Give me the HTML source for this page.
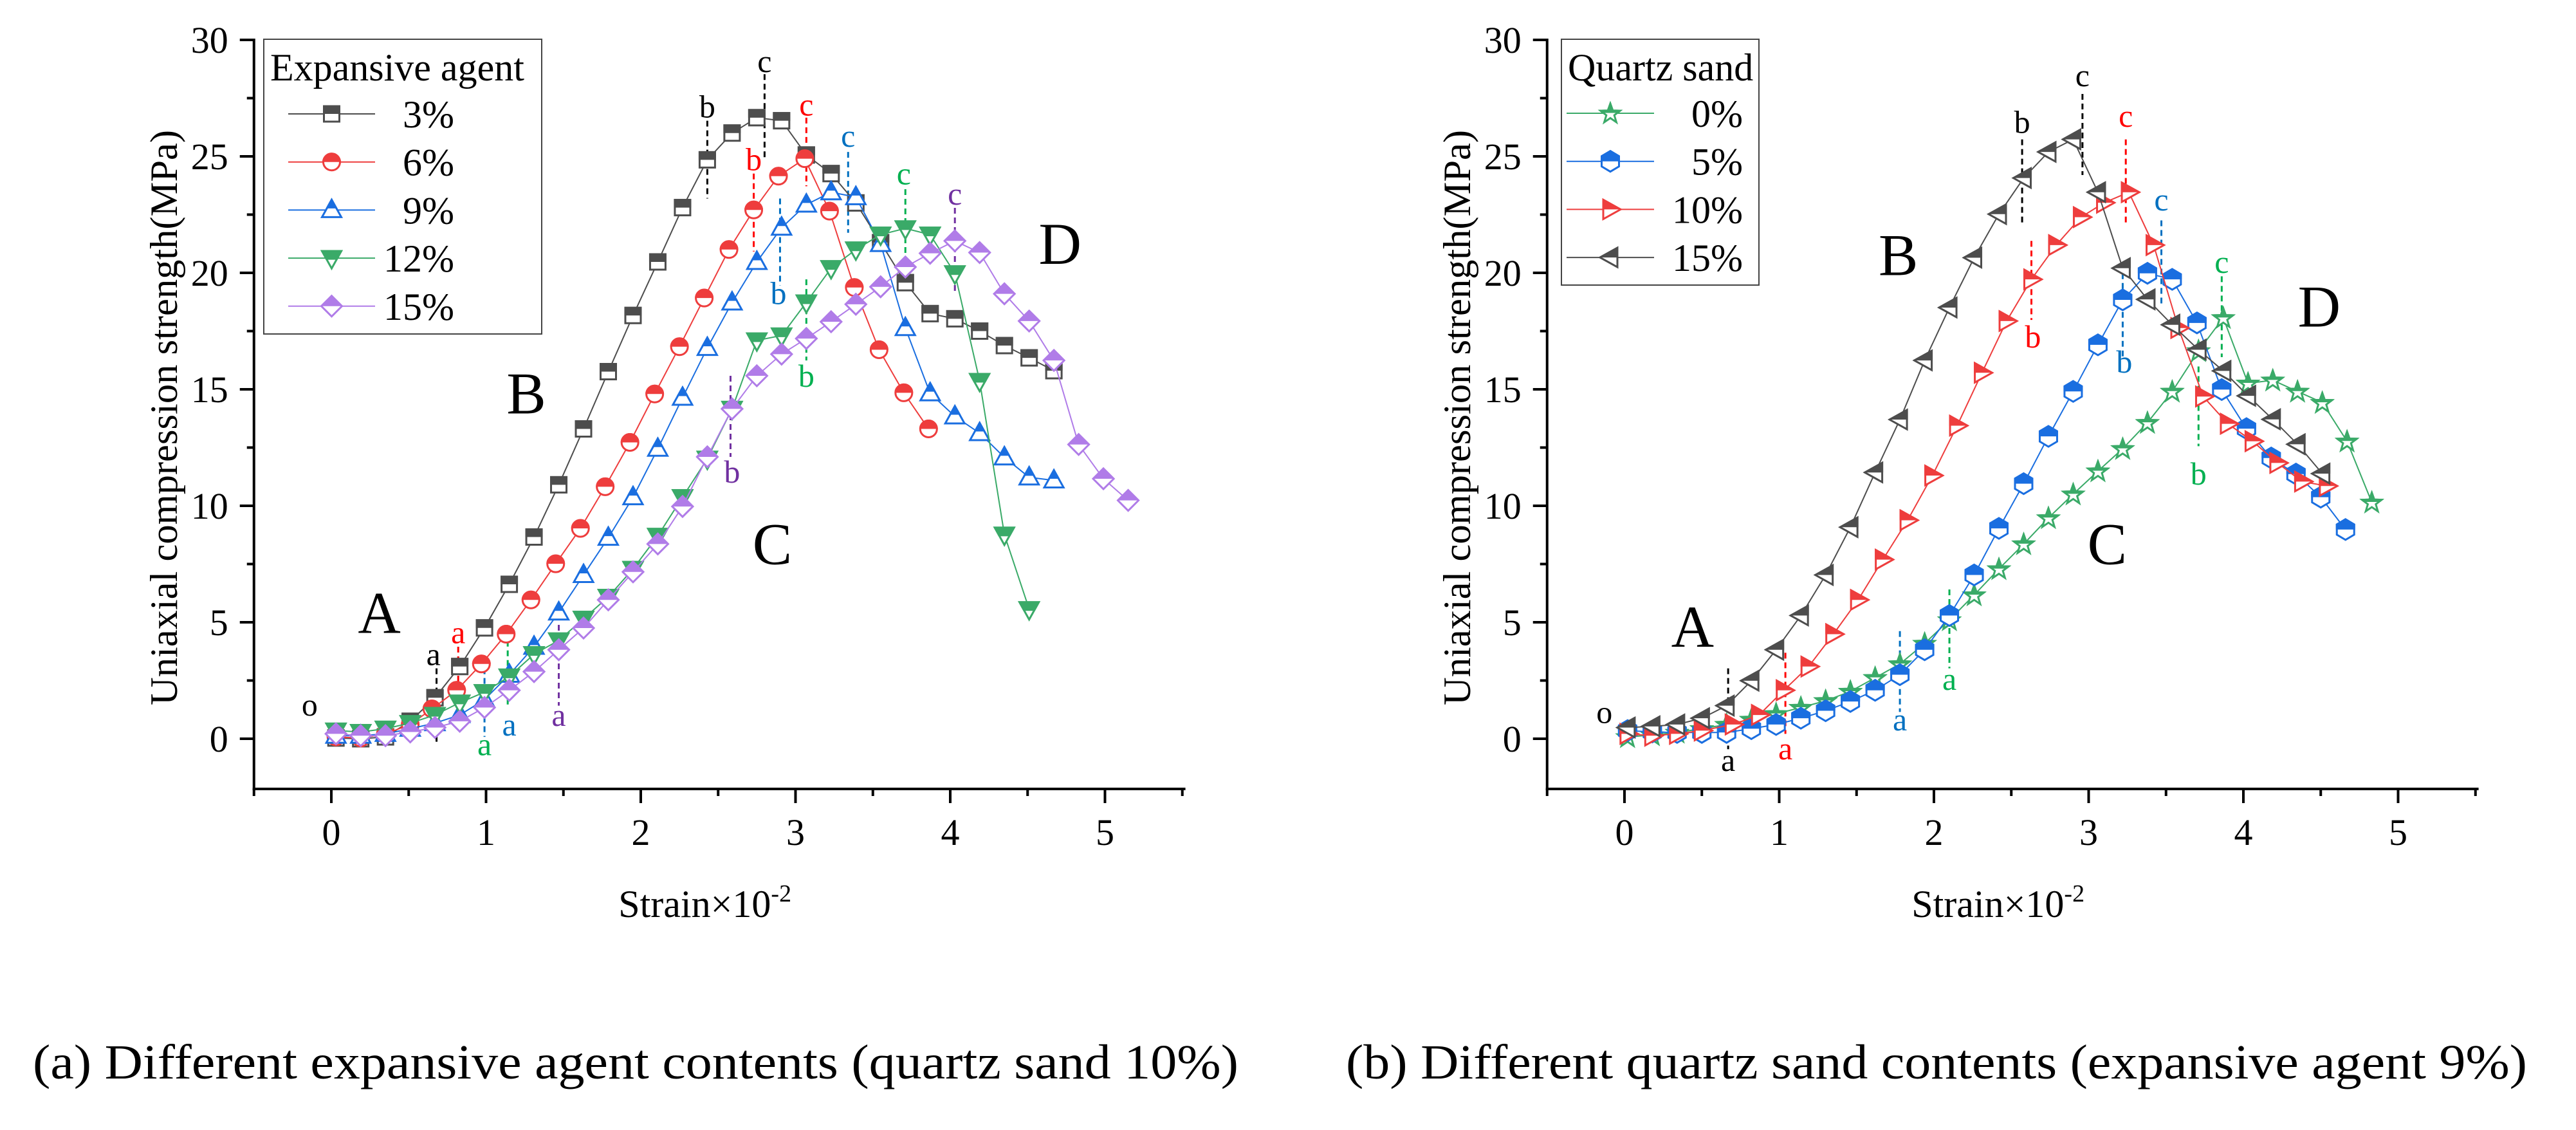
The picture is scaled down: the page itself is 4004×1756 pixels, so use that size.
<!DOCTYPE html>
<html><head><meta charset="utf-8"><style>
html,body{margin:0;padding:0;background:#fff;}
svg{display:block;font-family:"Liberation Serif",serif;}
</style></head><body>
<svg id="fig" width="4004" height="1756" viewBox="0 0 4004 1756" xmlns="http://www.w3.org/2000/svg">
<defs><clipPath id="top" clipPathUnits="objectBoundingBox"><rect x="-0.1" y="-0.1" width="1.2" height="0.6"/></clipPath></defs>
<g id="chartA"></g>
<g id="chartB"></g>
<text x="51" y="1676" font-size="76" textLength="1874" lengthAdjust="spacingAndGlyphs">(a) Different expansive agent contents (quartz sand 10%)</text>
<text x="2092" y="1676" font-size="76" textLength="1836" lengthAdjust="spacingAndGlyphs">(b) Different quartz sand contents (expansive agent 9%)</text>
</svg>
<script>
// ---------- Chart A data ----------
const xA30 = [0.03,0.19,0.35,0.51,0.67,0.83,0.99,1.15,1.31,1.47,1.63,1.79,1.95,2.11,2.27,2.43,2.59,2.75,2.91,3.07,3.23,3.39,3.55,3.71,3.87,4.03,4.19,4.35,4.51,4.67];
const yA3 = [0.03,0,0.08,0.75,1.76,3.1,4.76,6.63,8.66,10.9,13.3,15.76,18.17,20.47,22.8,24.85,26.0,26.66,26.53,25.06,24.26,23.0,21.3,19.58,18.25,18.03,17.5,16.88,16.35,15.8];
const xA6 = [0.03,0.19,0.35,0.51,0.65,0.81,0.97,1.13,1.29,1.45,1.61,1.77,1.93,2.09,2.25,2.41,2.57,2.73,2.89,3.06,3.22,3.38,3.54,3.70,3.86];
const yA6 = [0.08,0.03,0.21,0.61,1.28,2.08,3.21,4.49,5.96,7.51,9.03,10.82,12.72,14.8,16.83,18.92,21.0,22.7,24.15,24.9,22.65,19.37,16.7,14.85,13.3];
const yA9 = [0.13,0.13,0.21,0.43,0.67,1.02,1.68,2.75,3.95,5.42,7.03,8.63,10.37,12.45,14.64,16.78,18.73,20.47,21.94,22.93,23.46,23.25,21.24,17.63,14.83,13.84,13.12,12.08,11.22,11.09];
const xA12 = [0.03,0.19,0.35,0.51,0.67,0.83,0.99,1.15,1.31,1.47,1.63,1.79,1.95,2.11,2.27,2.43,2.59,2.75,2.91,3.07,3.23,3.39,3.55,3.71,3.87,4.03,4.19,4.35,4.51];
const yA12 = [0.35,0.29,0.43,0.67,1.02,1.55,2.0,2.67,3.63,4.22,5.15,6.09,7.29,8.71,10.37,12.02,14.16,17.1,17.31,18.73,20.2,21.0,21.64,21.91,21.64,19.98,15.36,8.76,5.56];
const xA15 = [0.03,0.19,0.35,0.51,0.67,0.83,0.99,1.15,1.31,1.47,1.63,1.79,1.95,2.11,2.27,2.43,2.59,2.75,2.91,3.07,3.23,3.39,3.55,3.71,3.87,4.03,4.19,4.35,4.51,4.67,4.83,4.99,5.15];
const yA15 = [0.21,0.13,0.13,0.29,0.48,0.75,1.34,2.08,2.88,3.82,4.75,5.96,7.16,8.36,9.97,12.1,14.16,15.58,16.51,17.18,17.9,18.65,19.4,20.25,20.84,21.37,20.87,19.1,17.93,16.24,12.63,11.16,10.23];
// annotations A: letter, x, y, lineTop, lineBottom, color
const annA_txt = ['a','a','a','a','a','b','c','b','c','b','c','b','c','b','c'];
const annA_tx = [0.66,0.82,1.15,0.99,1.47,2.43,2.80,2.73,3.07,2.89,3.34,3.07,3.70,2.59,4.03];
const annA_ty = [3.55,4.49,0.53,-0.32,0.94,27.06,29.0,24.79,27.14,19.05,25.8,15.5,24.18,11.38,23.32];
const annA_lx = [0.68,0.82,0.99,1.14,1.47,2.43,2.80,2.73,3.07,2.90,3.34,3.07,3.71,2.58,4.03];
const annA_l1 = [3.02,3.95,3.02,4.62,4.89,26.53,28.53,24.26,26.66,23.19,25.19,19.72,23.59,15.58,22.79];
const annA_l2 = [-0.19,0.75,0.08,1.42,1.42,23.19,24.93,20.92,23.72,19.45,21.72,16.24,20.25,12.1,19.18];
const annA_col = ['#000','#f00','#0070c0','#00b050','#7030a0','#000','#000','#f00','#f00','#0070c0','#0070c0','#00b050','#00b050','#7030a0','#7030a0'];
// ---------- Chart B data ----------
const xB0 = [0.02,0.18,0.34,0.50,0.66,0.82,0.98,1.14,1.30,1.46,1.62,1.78,1.94,2.10,2.26,2.42,2.58,2.74,2.90,3.06,3.22,3.38,3.54,3.71,3.87,4.03,4.19,4.35,4.51,4.67,4.83];
const yB0 = [0.08,0.16,0.27,0.43,0.61,0.83,1.07,1.34,1.63,2.03,2.62,3.21,4.09,5.1,6.17,7.29,8.36,9.48,10.5,11.49,12.45,13.57,14.91,16.65,18.07,15.26,15.39,14.91,14.43,12.77,10.15];
const yB5 = [0.35,0.29,0.27,0.27,0.27,0.43,0.61,0.88,1.2,1.6,2.08,2.75,3.82,5.29,7.03,9.03,10.95,12.98,14.91,16.91,18.84,19.98,19.72,17.85,14.99,13.31,12.05,11.36,10.37,8.98];
const xB10 = [0.02,0.18,0.34,0.50,0.70,0.87,1.03,1.19,1.35,1.51,1.67,1.83,1.99,2.15,2.31,2.47,2.63,2.79,2.95,3.10,3.26,3.42,3.58,3.74,3.90,4.06,4.22,4.38,4.54];
const yB10 = [0.21,0.13,0.21,0.35,0.61,1.02,2.08,3.1,4.49,5.96,7.69,9.38,11.3,13.44,15.71,17.93,19.72,21.19,22.39,23.01,23.46,21.19,17.63,14.69,13.52,12.77,11.84,11.04,10.85];
const yB15 = [0.48,0.53,0.61,0.88,1.42,2.49,3.82,5.29,7.03,9.08,11.43,13.7,16.24,18.51,20.65,22.52,24.07,25.19,25.73,23.46,20.2,18.86,17.77,16.7,15.79,14.72,13.71,12.64,11.38];
const annB_txt = ['a','a','a','a','b','b','b','b','c','c','c','c'];
const annB_tx = [0.67,1.04,1.78,2.10,2.57,2.64,3.23,3.71,2.96,3.24,3.47,3.86];
const annB_ty = [-0.99,-0.5,0.75,2.48,26.4,17.18,16.11,11.3,28.4,26.66,23.06,20.38];
const annB_lx = [0.67,1.04,1.78,2.10,2.57,2.63,3.22,3.71,2.96,3.24,3.47,3.86];
const annB_l1 = [3.02,3.69,4.62,6.41,25.73,21.37,19.98,15.98,27.68,25.73,22.25,19.85];
const annB_l2 = [-0.45,0.21,1.15,3.02,22.12,17.98,16.38,12.56,24.2,22.12,18.65,16.38];
const annB_col = ['#000','#f00','#0070c0','#00b050','#000','#f00','#0070c0','#00b050','#000','#f00','#0070c0','#00b050'];
const xTicks = [0,1,2,3,4,5];
const yTicks = [0,5,10,15,20,25,30];

const NS='http://www.w3.org/2000/svg';
function mk(parent,tag,attrs,txt){const e=document.createElementNS(NS,tag);for(const k in attrs)e.setAttribute(k,attrs[k]);if(txt!==undefined)e.textContent=txt;parent.appendChild(e);return e;}
function star(){let d='';for(let i=0;i<10;i++){const r=i%2?6.5:16;const a=-Math.PI/2+i*Math.PI/5;d+=(i?'L':'M')+(r*Math.cos(a)).toFixed(2)+','+(r*Math.sin(a)+1).toFixed(2);}return d+'Z';}
const SHAPES={
 square:'M-12,-12H12V12H-12Z',
 circle:'M-13,0A13,13 0 1,0 13,0A13,13 0 1,0 -13,0Z',
 up:'M0,-16L15,11L-15,11Z',
 down:'M0,16L15,-11L-15,-11Z',
 diamond:'M0,-16L16,0L0,16L-16,0Z',
 right:'M16,0L-11,-15L-11,15Z',
 left:'M-16,0L11,-15L11,15Z',
 hex:'M0,-16L13.5,-8V8L0,16L-13.5,8V-8Z',
 star:star()
};

function makeChart(g,x0){
  const X=v=>x0+v*240.5, Y=v=>1148-v*36.2;
  return {X,Y,g};
}
function drawAxes(c,name){
  const {X,Y,g}=c;
  const ax=mk(g,'g',{});
  
  
  const left=X(-0.5), right=X(5.52), bot=1226, top=Y(30);
  mk(ax,'line',{x1:left,y1:top-2,x2:left,y2:bot+2,stroke:'#000','stroke-width':4});
  mk(ax,'line',{x1:left-2,y1:bot,x2:right,y2:bot,stroke:'#000','stroke-width':4});
  for(let v=-0.5;v<=5.51;v+=0.5){const maj=Math.abs(v-Math.round(v))<0.01;mk(ax,'line',{x1:X(v),y1:bot,x2:X(v),y2:bot+(maj?22:11),stroke:'#000','stroke-width':4});}
  for(let v=-2.5;v<=30.01;v+=2.5){if(v<-2.2)continue;const maj=Math.abs(v/5-Math.round(v/5))<0.01;mk(ax,'line',{x1:left,y1:Y(v),x2:left-(maj?22:11),y2:Y(v),stroke:'#000','stroke-width':4});}
  xTicks.forEach(t=>{const e=mk(ax,'text',{x:X(t),y:1313,'font-size':58,'text-anchor':'middle'},String(t));
    
    });
  yTicks.forEach(t=>{const e=mk(ax,'text',{x:354,y:Y(t)+20,'font-size':58,'text-anchor':'end',transform:''},String(t));
    e.setAttribute('x',left-40);
    
    });
  const yl=mk(ax,'text',{x:0,y:0,'font-size':60,'text-anchor':'middle',textLength:894,lengthAdjust:'spacingAndGlyphs',transform:`translate(${left-120},649) rotate(-90)`},'Uniaxial compression strength(MPa)');
  
  
  const xl=mk(ax,'text',{x:X(2.5)-155,y:1425,'font-size':60},'Strain×10');
  mk(xl,'tspan',{'font-size':38,dy:-24},'-2');
  
  
}
function marker(g,shape,cx,cy,color){
  mk(g,'path',{d:SHAPES[shape],transform:`translate(${cx},${cy})`,fill:'#fff',stroke:color,'stroke-width':3});
  mk(g,'path',{d:SHAPES[shape],transform:`translate(${cx},${cy})`,fill:color,stroke:color,'stroke-width':3,'clip-path':'url(#top)'});
}
function drawSeries(c,xs,ys,shape,color,name){
  const {X,Y,g}=c;
  const sg=mk(g,'g',{});
  
  
  const pts=xs.map((x,i)=>X(x).toFixed(1)+','+Y(ys[i]).toFixed(1)).join(' ');
  mk(sg,'polyline',{points:pts,fill:'none',stroke:color,'stroke-width':2});
  xs.forEach((x,i)=>marker(sg,shape,X(x),Y(ys[i]),color));
}
function drawAnn(c,txt,tx,ty,lx,l1,l2,col,name){
  const {X,Y,g}=c;
  const ag=mk(g,'g',{});
  
  
  txt.forEach((t,i)=>{
    mk(ag,'line',{x1:X(lx[i]),y1:Y(l1[i]),x2:X(lx[i]),y2:Y(l2[i]),stroke:col[i],'stroke-width':3,'stroke-dasharray':'9,6'});
    mk(ag,'text',{x:X(tx[i]),y:Y(ty[i])+14,'font-size':50,'text-anchor':'middle',fill:col[i]},t);
  });
}
function bigLetters(c,labels,xs,ys){
  labels.forEach((l,i)=>{const e=mk(c.g,'text',{x:c.X(xs[i]),y:c.Y(ys[i]),'font-size':l==='o'?50:92,'text-anchor':'middle'},l);
    
    });
}
function legend(c,x,y,w,h,title,entries,lineX1,lineX2,labelRight,rowY){
  const lg=mk(c.g,'g',{});
  
  
  mk(lg,'rect',{x,y,width:w,height:h,fill:'#fff',stroke:'#444','stroke-width':2});
  mk(lg,'text',{x:x+10,y:125,'font-size':60},title);
  entries.forEach((e,i)=>{const yy=rowY+i*74.7;
    mk(lg,'line',{x1:lineX1,y1:yy,x2:lineX2,y2:yy,stroke:e[2],'stroke-width':2});
    marker(lg,e[1],(lineX1+lineX2)/2,yy,e[2]);
    mk(lg,'text',{x:labelRight,y:yy+21,'font-size':60,'text-anchor':'end'},e[0]);});
}
const GR='#4d4d4d',RD='#ee3d3d',BL='#1a6ee0',GN='#3aaa68',PU='#b07ce8';
const A=makeChart(document.getElementById('chartA'),515);
drawAxes(A,'chart-a');
drawAnn(A,annA_txt,annA_tx,annA_ty,annA_lx,annA_l1,annA_l2,annA_col,'point-annotations-a');
drawSeries(A,xA30,yA3,'square',GR,'series-3pct');
drawSeries(A,xA6,yA6,'circle',RD,'series-6pct');
drawSeries(A,xA30,yA9,'up',BL,'series-9pct');
drawSeries(A,xA12,yA12,'down',GN,'series-12pct');
drawSeries(A,xA15,yA15,'diamond',PU,'series-15pct');
bigLetters(A,['A','B','C','D','o'],[0.31,1.26,2.85,4.71,-0.14],[4.54,13.97,7.5,20.38,1.0]);
legend(A,410,61,432,458,'Expansive agent',[['3%','square',GR],['6%','circle',RD],['9%','up',BL],['12%','down',GN],['15%','diamond',PU]],448,583,706,177);

const B=makeChart(document.getElementById('chartB'),2525);
drawAxes(B,'chart-b');
drawAnn(B,annB_txt,annB_tx,annB_ty,annB_lx,annB_l1,annB_l2,annB_col,'point-annotations-b');
drawSeries(B,xB0,yB0,'star',GN,'series-sand-0pct');
drawSeries(B,xA30.map(v=>v-0.01),yB5,'hex',BL,'series-sand-5pct');
drawSeries(B,xB10,yB10,'right',RD,'series-sand-10pct');
drawSeries(B,xB0.slice(0,29),yB15,'left',GR,'series-sand-15pct');
bigLetters(B,['A','B','C','D','o'],[0.44,1.77,3.12,4.49,-0.13],[3.95,19.9,7.5,17.7,0.67]);
legend(B,2427,61,307,382,'Quartz sand',[['0%','star',GN],['5%','hex',BL],['10%','right',RD],['15%','left',GR]],2435,2571,2709,176);
</script>
</body></html>
